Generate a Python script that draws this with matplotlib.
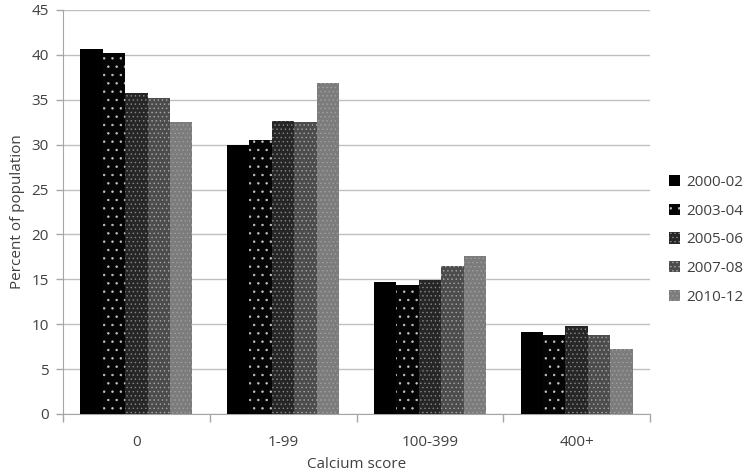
import numpy as np
import matplotlib.pyplot as plt

# values
categories = ["0", "1-99", "100-399", "400+"]
periods = ["2000-02", "2003-04", "2005-06", "2007-08", "2010-12"]
v_2000_02 = [40.6, 30.0, 14.7, 9.1]
v_2003_04 = [40.2, 30.5, 14.4, 8.8]
v_2005_06 = [35.8, 32.6, 14.9, 9.8]
v_2007_08 = [35.2, 32.5, 16.5, 8.8]
v_2010_12 = [32.5, 36.9, 17.6, 7.2]
series = [v_2000_02, v_2003_04, v_2005_06, v_2007_08, v_2010_12]

# grey-scale fills roughly mimicking the stipple patterns
faces = ["#000000", "#050505", "#262626", "#4c4c4c", "#7c7c7c"]
hatch_cols = ["#000000", "#c8c8c8", "#8a8a8a", "#a8a8a8", "#a0a0a0"]
hatches = [None, "..", "....", "....", "...."]

plt.rcParams["font.family"] = ["Open Sans", "DejaVu Sans"]
plt.rcParams["hatch.linewidth"] = 0.5
text_col = "#404040"
axis_col = "#a6a6a6"

fig = plt.figure(figsize=(7.55, 4.76), dpi=100)
ax = fig.add_axes([0.0834, 0.1303, 0.7776, 0.8487])

x = np.arange(len(categories))
w = 0.153
for i, (vals, lab) in enumerate(zip(series, periods)):
    ax.bar(x + (i - 2) * w, vals, width=w, color=faces[i], edgecolor=hatch_cols[i],
           hatch=hatches[i], linewidth=0, label=lab, zorder=3)

ax.set_xlim(-0.5, 3.5)
ax.set_ylim(0, 45)
ax.set_yticks(range(0, 46, 5))
ax.set_xticks(x)
ax.set_xticklabels(categories)
ax.set_xticks(np.arange(-0.5, 3.6, 1), minor=True)
ax.tick_params(axis="x", which="major", length=0, pad=15, labelsize=11, labelcolor=text_col)
ax.tick_params(axis="x", which="minor", length=6, color=axis_col, width=1)
ax.tick_params(axis="y", length=5, color=axis_col, width=1, labelsize=11,
               labelcolor=text_col, pad=5)

ax.grid(axis="y", color="#bfbfbf", linewidth=1, zorder=0)
for side in ["top", "right"]:
    ax.spines[side].set_visible(False)
for side in ["left", "bottom"]:
    ax.spines[side].set_color(axis_col)

ax.set_xlabel("Calcium score", fontsize=11, color=text_col, labelpad=5)
ax.set_ylabel("Percent of population", fontsize=11, color=text_col, labelpad=5)

ax.legend(loc="center left", bbox_to_anchor=(0.878, 0.496), bbox_transform=fig.transFigure,
          frameon=False, fontsize=11, labelcolor=text_col, handlelength=0.75,
          handleheight=0.75, handletextpad=0.35, labelspacing=0.9, borderaxespad=0)

fig.savefig("out.png", dpi=100)
